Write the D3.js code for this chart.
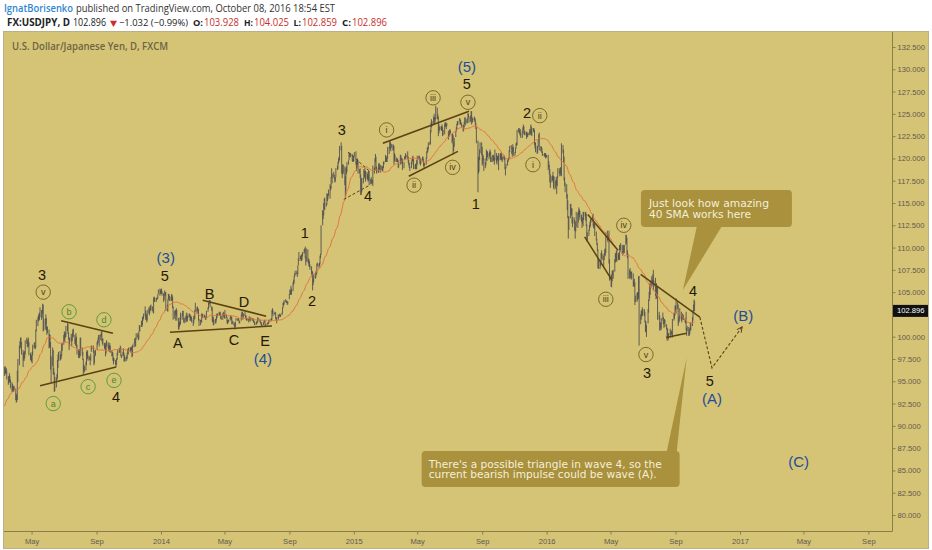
<!DOCTYPE html>
<html>
<head>
<meta charset="utf-8">
<script src="https://cdn.jsdelivr.net/npm/d3@7"></script>
<style>
  html, body { margin: 0; padding: 0; background: #fff; }
  svg { display: block; }
</style>
</head>
<body>
<svg id="chart"></svg>
<script>
// ── Daily lows/highs, one row per trading week (Mon..Fri), weeks from 2013-03-11 ──
const y2013 = [
  95.6,96.6, 95.9,96.7, 95.8,96.4, 95.9,96.5, 95.2,96.2,
  94.6,95.6, 94.8,95.5, 94.9,95.9, 94.9,95.6, 94.2,95.2,
  93.8,94.9, 93.9,94.7, 93.8,94.5, 93.8,94.4, 94.0,94.5,
  92.9,94.2, 92.6,93.6, 92.7,93.5, 92.9,96.2, 94.9,97.5,
  96.8,99.0, 98.6,99.5, 98.8,99.9, 99.2,99.9, 98.0,99.4,
  96.6,98.5, 97.3,98.2, 97.3,98.3, 97.6,98.4, 98.0,99.6,
  99.2,99.9, 98.8,99.7, 98.9,99.4, 98.9,99.9, 97.9,99.4,
  97.4,98.2, 97.3,98.0, 97.2,97.9, 97.0,98.3, 97.9,99.1,
  98.7,99.3, 98.7,99.4, 98.6,99.0, 98.8,100.8, 100.6,101.9,
  101.2,102.2, 101.7,102.4, 101.8,102.6, 101.9,102.7, 102.2,103.3,
  101.9,103.0, 102.1,103.0, 102.6,103.7, 100.6,103.6, 100.7,102.0,
  100.8,102.0, 101.4,102.5, 100.7,102.1, 100.2,101.2, 100.4,101.1,
  98.7,100.8, 98.8,100.3, 98.8,100.2, 96.3,99.4, 94.9,97.8,
  96.7,98.8, 95.8,98.5, 95.7,96.5, 93.8,96.0, 93.9,95.5,
  94.3,95.4, 95.1,95.8, 95.3,97.4, 96.5,98.0, 97.3,98.3,
  97.3,98.4, 97.4,98.0, 97.5,98.0, 97.8,99.2, 98.4,99.3,
  99.1,100.2, 99.6,100.6, 99.4,100.4, 99.9,100.5, 100.0,101.2,
  100.6,101.5, 100.3,101.4, 99.7,100.5, 98.5,99.9, 99.0,99.9,
  99.5,100.3, 98.9,99.9, 99.5,100.4, 99.9,100.8, 100.0,100.9,
  99.2,100.2, 99.0,99.8, 99.5,100.4, 98.8,100.0, 98.0,99.1,
  97.6,98.5, 97.8,98.5, 97.6,98.6, 97.8,99.9, 98.4,99.9,
  97.9,98.8, 97.4,98.3, 95.8,97.5, 96.1,96.9, 96.0,96.7,
  96.2,97.2, 96.8,98.3, 97.8,98.5, 97.5,98.4, 97.3,97.9,
  97.4,97.8, 96.8,97.7, 97.3,98.1, 98.3,99.0, 98.6,99.0,
  98.2,99.0, 96.8,98.5, 97.0,97.9, 97.8,98.4, 97.9,98.5,
  98.5,99.4, 99.1,99.6, 99.3,99.9, 99.7,100.2, 98.9,100.2,
  99.6,100.3, 100.0,100.6, 99.5,100.6, 99.2,99.8, 99.0,99.8,
  98.6,99.3, 98.8,99.3, 97.8,99.1, 98.1,99.4, 98.9,99.6,
  98.7,99.4, 98.5,99.1, 98.3,99.0, 98.6,99.3, 98.2,99.0,
  97.8,98.5, 97.8,98.3, 97.3,98.2, 96.9,97.7, 97.2,97.6,
  96.8,97.4, 96.6,97.1, 96.9,97.6, 97.4,98.2, 97.9,98.6,
  98.2,98.7, 98.2,98.7, 98.5,99.0, 97.8,98.8, 97.6,98.0,
  97.8,98.3, 97.9,98.7, 97.2,98.2, 97.3,97.9, 97.2,97.7,
  97.3,97.9, 97.5,98.2, 98.0,98.6, 98.0,98.7, 98.4,98.8,
  98.3,98.8, 98.2,98.8, 98.5,98.9, 97.7,98.8, 97.8,99.1,
  98.8,99.3, 99.3,99.8, 98.9,99.5, 98.9,99.9, 99.7,100.4,
  99.9,100.4, 99.6,100.2, 99.7,100.6, 100.6,101.3, 100.6,101.3,
  101.1,101.8, 101.1,101.6, 101.3,102.2, 101.8,102.3, 102.0,102.6,
  102.3,103.4, 101.9,102.9, 101.9,102.6, 101.6,102.4, 101.8,103.0,
  102.6,103.3, 102.4,103.1, 102.7,103.4, 103.0,103.5, 102.9,103.6,
  102.9,103.4, 102.7,103.0, 102.6,104.4, 103.9,104.5, 103.9,104.4,
  103.9,104.3, 104.1,104.4, 104.2,104.4, 104.3,104.8, 104.8,105.3,
  104.6,105.4, 104.8,105.3, 104.9,105.2, 104.8,105.4, 104.6,105.1
];
const y2014 = [
  103.9,104.9, 104.1,104.7, 104.6,105.2, 104.6,105.0, 102.9,105.0,
  102.9,103.6, 102.8,104.2, 104.1,104.8, 104.3,104.8, 104.0,104.6,
  104.0,104.5, 104.1,104.8, 104.0,104.7, 103.2,104.5, 101.9,103.4,
  102.0,102.9, 102.5,103.0, 101.8,103.0, 102.3,103.2, 101.8,103.0,
  100.8,102.1, 100.8,101.5, 101.1,101.7, 101.3,102.2, 101.4,102.7,
  101.9,102.6, 102.3,102.9, 102.3,102.9, 101.6,102.3, 101.5,102.1,
  101.6,102.3, 101.7,102.7, 101.9,102.4, 101.7,102.3, 102.1,102.6,
  102.2,102.6, 101.8,102.5, 101.8,102.4, 101.8,102.3, 101.6,102.2,
  101.2,101.9, 101.5,102.3, 101.9,102.4, 102.0,103.0, 102.8,103.8,
  102.7,103.3, 102.9,103.4, 102.6,103.2, 101.8,103.1, 101.2,102.0,
  101.3,101.9, 101.6,101.9, 101.6,102.6, 102.1,102.6, 102.1,102.5,
  102.1,102.5, 102.1,102.4, 101.9,102.3, 101.9,102.2, 102.1,102.9,
  102.8,103.3, 103.1,103.8, 103.6,104.1, 103.7,104.1, 103.3,104.1,
  102.9,103.4, 101.7,103.3, 101.6,102.3, 101.3,102.2, 101.3,101.9,
  101.5,102.0, 101.5,102.0, 101.8,102.5, 102.1,102.6, 102.3,102.6,
  102.4,102.8, 102.4,102.7, 102.4,102.8, 102.0,102.6, 101.9,102.3,
  101.9,102.6, 102.4,102.8, 102.2,102.7, 102.1,102.5, 102.0,103.0,
  102.1,102.5, 101.5,102.2, 101.4,101.9, 101.6,101.9, 101.6,101.9,
  101.8,102.2, 102.0,102.4, 101.9,102.3, 101.4,102.2, 101.4,101.8,
  101.3,101.7, 101.1,101.5, 100.8,101.3, 101.1,101.7, 101.8,102.1,
  101.8,102.0, 101.8,102.1, 101.8,102.0, 101.5,101.8, 101.5,101.8,
  101.8,102.5, 102.3,102.8, 102.4,102.8, 101.9,102.6, 102.2,102.6,
  102.3,102.8, 102.1,102.4, 101.9,102.4, 101.8,102.1, 101.8,102.1,
  101.6,102.0, 101.9,102.3, 101.8,102.1, 101.7,102.1, 101.9,102.2,
  101.8,102.1, 101.8,102.1, 101.6,102.0, 101.6,101.8, 101.3,101.7,
  101.3,101.6, 101.4,101.7, 101.5,101.8, 101.6,102.2, 101.8,102.1,
  101.7,102.0, 101.5,101.8, 101.4,101.7, 101.1,101.6, 101.2,101.4,
  101.3,101.6, 101.5,101.8, 101.7,101.9, 101.2,101.8, 101.2,101.4,
  101.3,101.5, 101.4,101.6, 101.4,101.6, 101.5,101.9, 101.7,101.9,
  101.7,102.0, 101.8,102.1, 101.9,103.0, 102.6,103.2, 102.3,103.0,
  102.5,102.7, 102.5,102.8, 102.0,102.7, 101.8,102.2, 101.5,102.2,
  101.9,102.5, 102.1,102.4, 102.3,102.5, 102.3,102.6, 102.2,102.5,
  102.4,102.7, 102.6,103.3, 103.2,103.8, 103.5,103.9, 103.6,104.1,
  103.9,104.2, 103.8,104.1, 103.8,104.0, 103.6,103.9, 103.6,104.0,
  104.2,104.8, 104.7,105.3, 104.7,105.2, 104.9,105.7, 104.7,105.4,
  105.1,106.1, 105.8,106.4, 106.0,106.8, 106.7,107.1, 106.9,107.4,
  107.0,107.4, 106.7,107.2, 107.0,108.0, 108.0,108.8, 108.5,109.5,
  108.7,109.1, 108.5,109.0, 108.5,109.2, 108.6,109.3, 109.0,109.5,
  109.3,109.8, 109.5,109.9, 108.8,110.1, 108.0,109.0, 108.4,109.9,
  108.4,109.8, 108.2,108.8, 107.9,108.7, 107.8,108.5, 107.5,108.1,
  107.0,107.9, 106.7,107.4, 105.2,107.3, 105.8,106.5, 106.1,107.0,
  106.5,107.0, 106.6,107.3, 106.9,107.4, 107.1,108.2, 107.9,108.3,
  107.7,108.2, 107.9,108.3, 108.1,109.1, 108.8,109.3, 109.2,112.5,
  112.5,114.2, 113.2,114.1, 113.6,115.0, 114.3,115.5, 114.2,115.6,
  114.6,115.0, 114.8,116.1, 115.2,116.0, 115.4,116.0, 115.8,116.5,
  115.5,117.1, 116.4,116.9, 116.6,117.9, 117.8,118.9, 117.2,118.3,
  117.9,118.5, 117.7,118.2, 117.3,117.9, 117.4,117.9, 117.9,118.9,
  118.7,119.2, 118.8,119.6, 119.4,120.0, 119.6,120.2, 119.8,121.4,
  120.9,121.8, 118.3,121.4, 117.8,119.3, 118.2,119.3, 118.3,119.3,
  117.0,119.1, 115.6,118.0, 116.3,118.9, 118.2,119.1, 118.5,119.6,
  119.3,119.8, 119.8,120.7, 120.2,120.6, 120.1,120.4, 120.2,120.6,
  119.7,120.5, 119.6,120.0, 119.6,120.3, 119.7,120.3, 120.2,120.7
];
const y2015 = [
  119.3,120.8, 118.6,119.7, 118.8,119.8, 119.3,120.0, 118.3,119.8,
  118.3,118.8, 117.8,118.9, 115.9,118.2, 115.9,117.8, 116.2,117.8,
  117.2,117.8, 117.7,118.8, 117.9,118.6, 117.8,118.9, 117.4,118.6,
  117.7,118.5, 117.6,118.3, 117.4,118.1, 117.5,118.6, 117.0,118.6,
  117.1,117.7, 117.3,117.9, 117.1,117.6, 117.2,117.6, 116.9,119.2,
  118.3,119.0, 118.6,120.0, 119.6,120.5, 118.7,120.2, 118.3,119.1,
  118.4,118.9, 118.4,119.4, 118.8,119.5, 118.7,119.2, 118.4,119.3,
  118.7,119.2, 118.6,119.1, 118.6,119.1, 118.9,119.6, 119.3,119.7,
  119.6,120.4, 119.6,120.3, 119.6,120.1, 119.6,120.2, 120.0,121.3,
  120.5,121.3, 121.1,122.0, 121.0,121.9, 120.8,121.7, 121.2,121.6,
  120.9,121.6, 120.9,121.5, 119.3,121.4, 119.7,120.6, 119.6,120.4,
  119.6,120.1, 119.6,119.9, 119.6,120.0, 118.9,119.8, 119.0,119.4,
  119.3,120.4, 119.6,120.4, 119.4,120.1, 119.6,119.8, 118.7,120.0,
  118.9,119.6, 119.9,120.2, 119.9,120.3, 120.0,120.6, 120.1,120.4,
  119.9,120.8, 119.5,120.2, 119.2,119.8, 118.9,119.5, 118.6,119.1,
  118.9,119.6, 119.3,119.9, 119.7,120.2, 119.6,120.3, 118.8,119.9,
  118.8,119.3, 118.8,119.4, 118.8,119.4, 118.8,119.8, 119.3,120.3,
  119.9,120.3, 119.9,120.3, 119.4,120.1, 119.2,119.9, 119.4,120.0,
  119.7,120.2, 119.6,120.2, 119.1,119.9, 118.9,119.4, 119.2,119.5,
  119.3,120.1, 120.0,120.8, 120.6,121.2, 120.7,121.3, 121.0,121.8,
  121.5,121.9, 121.6,123.2, 122.9,124.0, 123.5,124.4, 123.6,124.2,
  123.9,124.7, 124.3,125.0, 123.8,124.6, 124.1,124.6, 124.4,125.9,
  124.4,125.7, 124.4,125.0, 122.5,124.7, 122.8,123.9, 123.1,123.6,
  123.2,123.6, 123.1,123.6, 123.1,123.8, 122.5,123.5, 122.6,123.2,
  122.7,123.9, 123.5,124.1, 123.6,124.0, 123.3,123.9, 123.6,124.0,
  122.1,123.1, 122.4,122.8, 122.5,123.2, 122.9,123.3, 122.8,123.1,
  121.7,122.8, 121.9,122.8, 120.4,122.6, 120.8,121.8, 121.3,122.3,
  122.4,123.1, 123.0,123.5, 123.2,123.9, 123.7,124.2, 123.8,124.2,
  124.2,124.5, 123.8,124.5, 123.8,124.3, 123.8,124.1, 123.5,123.9,
  123.0,123.8, 123.1,123.7, 123.5,124.1, 123.9,124.6, 123.7,124.6,
  123.9,124.4, 124.0,124.5, 124.4,125.1, 124.6,125.0, 124.0,124.7,
  124.1,124.8, 124.5,125.3, 123.8,125.3, 124.0,124.6, 124.1,124.5,
  124.3,124.7, 124.1,124.6, 123.7,124.4, 123.3,124.0, 121.7,123.5,
  116.2,122.0, 118.3,120.2, 118.5,120.1, 119.8,121.0, 120.6,121.8,
  120.4,121.8, 119.2,121.3, 119.4,120.5, 119.8,120.3, 118.6,120.0,
  118.9,119.6, 119.2,120.0, 119.8,121.0, 119.7,120.8, 120.1,120.8,
  119.9,120.6, 120.2,120.8, 120.4,121.0, 119.6,120.7, 119.6,120.2,
  119.6,120.4, 119.8,120.4, 119.7,120.3, 119.3,120.1, 119.8,121.0,
  119.5,120.6, 119.3,120.1, 119.8,120.3, 119.7,120.3, 118.7,120.6,
  119.8,120.5, 119.9,120.6, 119.8,120.7, 119.8,120.5, 119.6,120.2,
  119.9,120.3, 119.8,120.3, 118.8,120.0, 118.1,119.0, 118.9,119.4,
  119.2,119.8, 119.6,120.0, 119.8,120.1, 119.9,120.9, 120.7,121.4,
  121.0,121.5, 120.5,121.0, 120.2,121.3, 120.7,121.6, 120.3,121.3,
  120.3,120.7, 120.6,121.2, 121.1,121.7, 121.4,121.8, 121.5,123.2,
  122.9,123.4, 122.9,123.4, 122.7,123.2, 122.5,123.3, 122.3,122.9,
  122.3,123.1, 122.9,123.5, 123.1,123.8, 122.7,123.6, 122.6,123.1,
  122.6,123.0, 122.2,123.0, 122.4,122.9, 122.4,122.8, 122.6,122.9,
  122.6,123.3, 122.7,123.1, 122.8,123.8, 122.6,123.6, 122.5,123.4,
  123.0,123.4, 122.9,123.4, 121.5,123.2, 121.1,121.8, 120.7,121.8,
  120.5,121.4, 120.6,121.4, 121.3,122.1, 122.0,122.7, 120.9,122.9,
  120.8,121.4, 120.8,121.3, 120.6,121.2, 120.3,120.8, 120.3,120.5,
  120.2,120.6, 120.2,120.6, 120.0,120.6, 120.1,120.4, 120.1,120.4
];
const y2016 = [
  118.7,120.4, 119.0,119.7, 118.2,119.3, 117.3,118.8, 116.7,118.2,
  117.3,118.0, 117.5,118.1, 117.7,118.5, 116.7,118.0, 116.5,118.0,
  116.6,117.5, 117.0,117.9, 116.0,117.7, 116.9,118.0, 117.8,118.9,
  118.3,118.9, 118.0,118.6, 118.1,119.0, 118.4,119.0, 118.0,121.7,
  120.6,121.5, 119.6,121.0, 117.5,120.2, 116.9,117.9, 116.2,117.3,
  115.5,117.1, 114.2,116.0, 113.3,115.3, 111.0,113.5, 112.0,113.5,
  113.3,114.9, 113.7,114.9, 113.6,114.4, 112.7,114.4, 112.3,113.4,
  112.7,113.4, 111.9,113.1, 111.0,112.3, 111.8,112.9, 112.3,114.0,
  112.2,113.9, 112.8,114.1, 113.7,114.5, 113.4,114.3, 113.1,114.1,
  112.9,113.7, 112.2,113.2, 112.7,113.4, 112.4,114.0, 113.1,114.0,
  113.5,114.0, 113.0,114.0, 112.4,113.8, 110.7,112.6, 110.8,111.7,
  111.3,112.0, 111.9,112.5, 112.2,112.9, 112.4,113.2, 112.8,113.2,
  113.2,113.7, 112.4,113.8, 112.2,112.8, 112.1,112.7, 111.3,112.7,
  110.8,111.8, 110.3,111.0, 109.6,110.5, 107.7,109.8, 107.6,108.8,
  107.6,108.5, 107.9,108.6, 108.4,109.4, 108.8,109.7, 108.6,109.3,
  107.8,109.1, 108.6,109.4, 109.0,109.8, 109.1,109.9, 109.4,111.7,
  110.8,111.9, 110.6,111.5, 110.9,111.5, 108.2,111.9, 106.3,108.7,
  105.6,107.0, 105.55,106.9, 106.2,107.4, 106.9,107.4, 106.5,107.5,
  107.3,108.7, 108.3,109.4, 108.4,109.3, 108.5,109.7, 108.4,109.6,
  108.6,109.4, 108.7,109.3, 108.6,110.3, 109.5,110.2, 109.7,110.5,
  109.3,110.3, 109.1,109.6, 109.5,110.3, 109.3,110.2, 109.4,110.3,
  110.3,111.45, 110.5,111.4, 109.2,111.1, 108.8,109.7, 106.5,109.3,
  106.5,107.5, 107.0,107.7, 106.6,107.3, 106.4,107.3, 106.5,107.3,
  105.6,107.1, 105.7,106.3, 105.6,106.5, 103.55,106.1, 103.9,104.6,
  103.9,104.9, 104.1,105.0, 104.2,105.0, 104.3,106.8, 99.0,106.8,
  101.4,102.5, 101.9,102.9, 102.3,103.0, 102.3,103.3, 102.4,103.1,
  102.3,103.1, 101.6,102.8, 100.5,101.8, 100.6,101.7, 99.98,101.3,
  101.5,103.1, 102.7,104.2, 104.0,105.0, 104.3,105.9, 104.7,106.3,
  105.6,106.8, 105.8,106.4, 106.1,107.0, 105.2,107.5, 105.6,106.3,
  104.6,106.6, 104.2,105.6, 104.3,106.0, 104.8,105.5, 101.9,105.6,
  101.9,102.8, 100.7,102.4, 100.7,101.6, 101.0,101.6, 100.8,102.1,
  101.8,102.7, 101.4,102.2, 101.0,101.7, 101.5,102.0, 101.1,101.9,
  100.8,101.4, 99.55,101.0, 99.9,100.9, 99.6,100.4, 99.8,100.4,
  100.2,100.9, 99.9,100.5, 100.3,100.7, 100.2,100.6, 99.9,102.0,
  101.8,102.6, 102.0,102.7, 102.4,103.5, 103.0,103.5, 102.6,104.3,
  103.1,104.0, 101.2,103.6, 101.5,102.1, 101.7,102.3, 102.0,103.2,
  101.8,102.8, 101.6,102.3, 102.1,102.6, 101.9,102.5, 101.9,102.4,
  101.6,102.1, 101.5,101.9, 100.7,102.8, 100.1,101.0, 100.6,101.2,
  100.1,101.1, 100.1,100.8, 100.3,101.0, 100.7,101.6, 100.7,101.6,
  101.2,102.2, 101.8,103.0, 102.8,103.6, 103.4,104.17, 102.86,104.03
];
// daily mid prices before the first visible bar (2013-01-14 .. 2013-03-08), only feed the SMA
const warmMid = [89.6, 88.5, 88.4, 89.6, 90.0, 89.5, 89.0, 88.6, 90.0, 90.7,
  90.8, 90.7, 91.0, 91.5, 92.3, 92.4, 93.3, 93.6, 93.4, 92.9,
  94.0, 93.5, 93.3, 92.8, 93.2, 93.9, 93.8, 93.5, 93.2, 93.3,
  92.5, 91.8, 92.2, 92.4, 93.4, 93.2, 93.3, 93.6, 94.3, 95.6];
const smaLen = 40;
const lastPrice = 102.896;

const priceTicks = d3.range(80, 132.51, 2.5);
const timeTicks  = ['2013-05-01','2013-09-01','2014-01-01','2014-05-01','2014-09-01','2015-01-01',
  '2015-05-01','2015-09-01','2016-01-01','2016-05-01','2016-09-01','2017-01-01','2017-05-01','2017-09-01'];
const timeLabels = ['May','Sep','2014','May','Sep','2015','May','Sep','2016','May','Sep','2017','May','Sep'];

// ── Elliott wave annotations: [date, price, text] ──
const waveNums = [
  ['2013-05-21',106.9,'3'], ['2013-10-08',93.2,'4'], ['2014-01-08',106.8,'5'],
  ['2014-09-30',111.6,'1'], ['2014-10-14',104.0,'2'], ['2014-12-09',123.2,'3'], ['2015-01-28',115.8,'4'],
  ['2015-08-03',128.35,'5'], ['2015-08-20',114.9,'1'], ['2015-11-25',125.1,'2'],
  ['2016-07-09',95.9,'3'], ['2016-10-04',105.1,'4'], ['2016-11-05',95.0,'5'],
  ['2014-02-02',99.3,'A'], ['2014-04-03',104.8,'B'], ['2014-05-19',99.6,'C'],
  ['2014-06-07',103.9,'D'], ['2014-07-17',99.55,'E']
];
const blueLabels = [
  ['2014-01-10',108.9,'(3)'], ['2014-07-13',97.6,'(4)'], ['2015-08-03',130.26,'(5)'],
  ['2016-11-09',93.1,'(A)'], ['2017-01-07',102.4,'(B)'], ['2017-04-22',85.95,'(C)']
];
const romanCircles = [
  ['2013-05-23',105.0,'v'], ['2015-03-04',123.2,'i'], ['2015-04-25',117.0,'ii'],
  ['2015-05-31',126.8,'iii'], ['2015-07-07',119.0,'iv'], ['2015-08-05',126.3,'v'],
  ['2015-12-19',124.8,'ii'], ['2015-12-06',119.3,'i'], ['2016-04-22',104.2,'iii'],
  ['2016-05-26',112.5,'iv'], ['2016-07-07',98.0,'v']
];
const greenCircles = [
  ['2013-06-11',92.5,'a'], ['2013-07-11',102.8,'b'], ['2013-08-16',94.4,'c'],
  ['2013-09-15',101.9,'d'], ['2013-10-04',95.1,'e']
];
const trendLines = [ // [date1, price1, date2, price2, dashed]
  ['2013-06-26',101.8,'2013-10-02',100.4,0], ['2013-05-17',94.5,'2013-10-08',96.6,0],
  ['2014-01-18',100.5,'2014-07-30',101.2,0], ['2014-03-21',104.1,'2014-07-19',102.3,0],
  ['2014-12-13',115.4,'2015-01-31',117.0,1], ['2014-12-21',120.7,'2015-01-30',118.6,1],
  ['2015-02-25',121.7,'2015-08-07',125.3,0], ['2015-04-15',118.0,'2015-07-17',120.8,0],
  ['2016-03-19',113.7,'2016-05-15',109.7,0], ['2016-03-13',111.2,'2016-05-03',106.4,0],
  ['2016-06-27',107.0,'2016-10-17',102.2,0], ['2016-08-14',99.9,'2016-09-22',100.4,0]
];
const forecast = [['2016-10-17',102.2], ['2016-11-09',96.5], ['2017-01-05',101.1]];
const notes = [
  { tip: ['2016-09-15',105.24], lines: ['Just look how amazing', '40 SMA works here'] },
  { tip: ['2016-09-22',97.6], lines: ["There's a possible triangle in wave 4, so the", 'current bearish impulse could be wave (A).'] }
];

// ── Layout ──
const W = 932, H = 550;
const L = 4, R = 892, T = 32, B = 531;
const BG = '#d5c376';
const parse = d3.timeParse('%Y-%m-%d');

const svg = d3.select('#chart').attr('width', W).attr('height', H);

const x = d3.scaleTime().domain([new Date(2014, 0, 1), new Date(2017, 0, 1)]).range([161, 740]);
const y = d3.scaleLinear().domain([80, 132.5]).range([515, 47]);

// bars: week w, weekday d -> date
const raw = [].concat(y2013, y2014, y2015, y2016);
const bars = [];
for (let i = 0; i < raw.length / 2; i++) {
  const w = Math.floor(i / 5), d = i % 5;
  bars.push({ date: new Date(2013, 2, 11 + w * 7 + d), lo: raw[2 * i], hi: raw[2 * i + 1] });
}
const mids = warmMid.concat(bars.map(b => (b.lo + b.hi) / 2));
bars.forEach((b, i) => {
  const j = i + warmMid.length;
  b.sma = d3.mean(mids.slice(j - smaLen + 1, j + 1));
});

// ── Frame ──
svg.append('rect').attr('x', 0).attr('y', 0).attr('width', W).attr('height', H).attr('fill', '#fff');
svg.append('rect').attr('x', 3.5).attr('y', 31.5).attr('width', 925).attr('height', 517)
  .attr('fill', BG).attr('stroke', '#b9b08a');

const defs = svg.append('defs');
defs.append('clipPath').attr('id', 'plot')
  .append('rect').attr('x', L).attr('y', T).attr('width', R - L).attr('height', B - T);

// ── Header ──
const hdrFont = '"Open Sans", "DejaVu Sans", sans-serif';
const line1 = svg.append('text').attr('y', 12).attr('font-family', hdrFont).attr('font-size', 10.5);
line1.append('tspan').attr('x', 4).attr('fill', '#2f86cf').attr('font-weight', 600)
  .attr('textLength', 69).attr('lengthAdjust', 'spacingAndGlyphs').text('IgnatBorisenko');
line1.append('tspan').attr('x', 76).attr('fill', '#333')
  .attr('textLength', 259).attr('lengthAdjust', 'spacingAndGlyphs')
  .text('published on TradingView.com, October 08, 2016 18:54 EST');

// [text, x, width, colour, weight, size]
const quote = [
  ['FX:USDJPY, D', 7, 63, '#222', 700], ['102.896', 73, 33, '#222', 400],
  ['▼', 110, 7, '#d22b2b', 400, 8], ['\u22121.032 (\u22120.99%)', 119, 69, '#222', 400, 9],
  ['O:', 193, 10, '#222', 700, 9.5], ['103.928', 204, 35, '#c9302c', 400],
  ['H:', 244, 9, '#222', 700, 9.5], ['104.025', 254, 35, '#c9302c', 400],
  ['L:', 293.5, 7.5, '#222', 700, 9.5], ['102.859', 302, 35, '#c9302c', 400],
  ['C:', 342, 9, '#222', 700, 9.5], ['102.896', 352, 35, '#c9302c', 400]
];
const line2 = svg.append('text').attr('y', 26).attr('font-family', hdrFont).attr('font-size', 10.5);
quote.forEach(([t, qx, len, col, wt, sz]) => {
  line2.append('tspan').attr('x', qx).attr('fill', col).attr('font-weight', wt)
    .attr('font-size', sz || null).attr('textLength', len).attr('lengthAdjust', 'spacingAndGlyphs').text(t);
});

svg.append('text').attr('x', 12).attr('y', 50).text('U.S. Dollar/Japanese Yen, D, FXCM')
  .attr('fill', '#6c6443').attr('font-weight', 600).attr('font-size', 10)
  .attr('font-family', hdrFont)
  .attr('textLength', 156).attr('lengthAdjust', 'spacingAndGlyphs');

// ── Price bars & 40 SMA ──
const gPlot = svg.append('g').attr('clip-path', 'url(#plot)');
gPlot.append('g').selectAll('line').data(bars).join('line')
  .attr('x1', d => x(d.date)).attr('x2', d => x(d.date))
  .attr('y1', d => y(d.hi)).attr('y2', d => y(d.lo))
  .attr('stroke', '#505050').attr('stroke-width', 0.9);

gPlot.append('path').datum(bars)
  .attr('d', d3.line().x(d => x(d.date)).y(d => y(d.sma)))
  .attr('fill', 'none').attr('stroke', '#e3763f').attr('stroke-width', 1);

// ── Annotations ──
const gAnn = svg.append('g').attr('clip-path', 'url(#plot)');
const ink = '#5b4213';
trendLines.forEach(([d1, p1, d2, p2, dash]) => {
  gAnn.append('line')
    .attr('x1', x(parse(d1))).attr('y1', y(p1)).attr('x2', x(parse(d2))).attr('y2', y(p2))
    .attr('stroke', ink).attr('stroke-width', dash ? 1 : 1.5)
    .attr('stroke-dasharray', dash ? '3,2' : null);
});

defs.append('marker').attr('id', 'arr').attr('viewBox', '0 0 10 10').attr('refX', 9).attr('refY', 5)
  .attr('markerWidth', 6).attr('markerHeight', 6).attr('orient', 'auto')
  .append('path').attr('d', 'M1,1 L9,5 L1,9').attr('fill', 'none').attr('stroke', ink).attr('stroke-width', 1.5);
gAnn.append('path').datum(forecast)
  .attr('d', d3.line().x(d => x(parse(d[0]))).y(d => y(d[1])))
  .attr('fill', 'none').attr('stroke', ink).attr('stroke-width', 1.1)
  .attr('stroke-dasharray', '3,2').attr('marker-end', 'url(#arr)');

const lblFont = '"Liberation Sans", Arial, sans-serif';
gAnn.selectAll('text.num').data(waveNums).join('text').attr('class', 'num')
  .attr('x', d => x(parse(d[0]))).attr('y', d => y(d[1]))
  .attr('text-anchor', 'middle').attr('dominant-baseline', 'central')
  .attr('font-family', lblFont).attr('font-size', 14.5).attr('fill', '#261906')
  .text(d => d[2]);
gAnn.selectAll('text.blue').data(blueLabels).join('text').attr('class', 'blue')
  .attr('x', d => x(parse(d[0]))).attr('y', d => y(d[1]))
  .attr('text-anchor', 'middle').attr('dominant-baseline', 'central')
  .attr('font-family', lblFont).attr('font-size', 15).attr('fill', '#1f4e98')
  .text(d => d[2]);

function circled(list, stroke, color) {
  const g = gAnn.append('g').selectAll('g').data(list).join('g')
    .attr('transform', d => `translate(${x(parse(d[0]))},${y(d[1])})`);
  g.append('circle').attr('r', 7.2).attr('fill', 'none').attr('stroke', stroke).attr('stroke-width', 1);
  g.append('text').attr('text-anchor', 'middle').attr('dominant-baseline', 'central')
    .attr('font-family', lblFont).attr('font-size', 9).attr('fill', color).text(d => d[2]);
}
circled(romanCircles, '#7a6a26', '#4d3f12');
circled(greenCircles, '#5c9d3a', '#3f8a2c');

// ── Callouts ──
const noteFill = '#a9913d', noteText = '#f5efd8';
const noteBoxes = [
  { bx: -42, by: -100, bw: 151, bh: 37, base: [14, 39], edge: 'bottom', tx: -34, ty: [-83.5, -72.5], size: 10.5, len: [120, 102] },
  { bx: -265, by: 93, bw: 258, bh: 36, base: [-20, -10], edge: 'top', tx: -258, ty: [109.5, 119.5], size: 10, len: [233, 228] }
];
notes.forEach((n, i) => {
  const o = noteBoxes[i];
  const tx = x(parse(n.tip[0])), ty = y(n.tip[1]);
  const g = svg.append('g').attr('transform', `translate(${tx},${ty})`);
  const ey = o.edge === 'bottom' ? o.by + o.bh - 1 : o.by + 1;
  g.append('path').attr('d', `M${o.base[0]},${ey} L0,0 L${o.base[1]},${ey} Z`).attr('fill', noteFill);
  g.append('rect').attr('x', o.bx).attr('y', o.by).attr('width', o.bw).attr('height', o.bh)
    .attr('rx', 4).attr('fill', noteFill);
  n.lines.forEach((t, k) => {
    g.append('text').attr('x', o.tx).attr('y', o.ty[k]).text(t)
      .attr('font-family', '"DejaVu Sans", Verdana, sans-serif').attr('font-size', o.size)
      .attr('fill', noteText).attr('textLength', o.len[k]).attr('lengthAdjust', 'spacingAndGlyphs');
  });
});

// ── Axes ──
const axisCol = '#8a7e4c';
svg.append('line').attr('x1', R + 0.5).attr('x2', R + 0.5).attr('y1', T).attr('y2', B + 0.5)
  .attr('stroke', axisCol);
svg.append('line').attr('x1', L).attr('x2', R + 0.5).attr('y1', B + 0.5).attr('y2', B + 0.5)
  .attr('stroke', axisCol);

// the last-price tag hides the tick label right next to it
const shownTicks = priceTicks.filter(v => Math.abs(y(v) - y(lastPrice)) > 9);
const yAxis = svg.append('g').attr('transform', `translate(${R + 0.5},0)`)
  .call(d3.axisRight(y).tickValues(shownTicks).tickFormat(d3.format('.3f')).tickSize(3).tickPadding(2));
yAxis.select('.domain').remove();
yAxis.selectAll('line').attr('stroke', axisCol);
yAxis.selectAll('text').attr('fill', '#5e5a4c').attr('font-size', 7.6).attr('font-family', lblFont);

const xAxis = svg.append('g').attr('transform', `translate(0,${B + 0.5})`)
  .call(d3.axisBottom(x).tickValues(timeTicks.map(parse)).tickFormat((d, i) => timeLabels[i]).tickSize(3).tickPadding(4));
xAxis.select('.domain').remove();
xAxis.selectAll('line').attr('stroke', axisCol);
xAxis.selectAll('text').attr('fill', '#5e5a4c').attr('font-size', 7.6).attr('font-family', lblFont);

// last price tag
const gTag = svg.append('g').attr('transform', `translate(${R + 1},${y(lastPrice)})`);
gTag.append('rect').attr('x', 0).attr('y', -6).attr('width', 35).attr('height', 12).attr('fill', '#111');
gTag.append('text').attr('x', 4).attr('y', 0).attr('dominant-baseline', 'central')
  .attr('font-family', lblFont).attr('font-size', 7.6).attr('fill', '#fff').text(d3.format('.3f')(lastPrice));
</script>
</body>
</html>
